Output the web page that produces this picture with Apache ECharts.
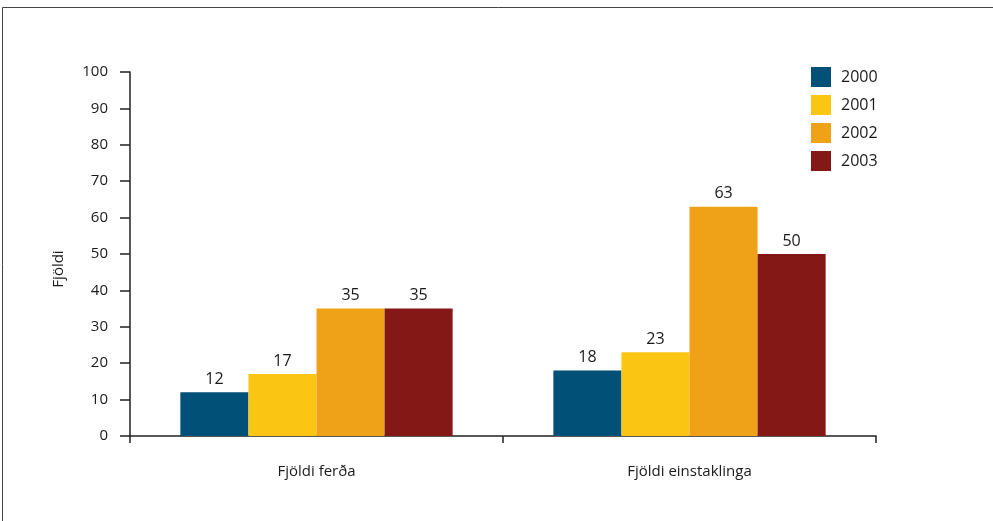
<!DOCTYPE html>
<html>
<head>
<meta charset="utf-8">
<style>
  html, body { margin: 0; padding: 0; background: #fff; }
  #chart { width: 993px; height: 521px; }
</style>
<script src="https://cdn.jsdelivr.net/npm/echarts@6/dist/echarts.min.js"></script>
</head>
<body>
<div id="chart"></div>
<script>
var categories = ['Fjöldi ferða', 'Fjöldi einstaklinga'];
var years = ['2000', '2001', '2002', '2003'];
var colors = ['#005077', '#FBC513', '#EFA117', '#841817'];
var values2000 = [12, 18];
var values2001 = [17, 23];
var values2002 = [35, 63];
var values2003 = [35, 50];
var yTicks = { min: 0, max: 100, interval: 10 };

var seriesValues = [values2000, values2001, values2002, values2003];
var font = '"Open Sans", "Noto Sans", sans-serif';

var myChart = echarts.init(document.getElementById('chart'));

var series = years.map(function (y, i) {
	return {
		name: y,
		type: 'bar',
		barGap: 0,
		barCategoryGap: '27%',
		itemStyle: { color: colors[i] },
		label: {
			show: true,
			position: 'top',
			distance: 5,
			color: '#1a1a1a',
			fontSize: 16,
			fontFamily: font
		},
		data: seriesValues[i]
	};
});

var option = {
	animation: false,
	backgroundColor: '#fff',
	textStyle: { fontFamily: font },
	graphic: [{
		type: 'rect',
		shape: { x: 2.5, y: 7.5, width: 1100, height: 600 },
		style: { fill: 'none', stroke: '#444', lineWidth: 1 },
		silent: true
	}],
	grid: { left: 130, right: 117, top: 72, bottom: 85 },
	legend: {
		orient: 'vertical',
		left: 806,
		top: 62,
		itemWidth: 20,
		itemHeight: 20,
		itemGap: 8,
		icon: 'rect',
		textStyle: { fontSize: 16, color: '#1a1a1a', fontFamily: font, padding: [0, 0, 0, 5] },
		data: years
	},
	xAxis: {
		type: 'category',
		data: categories,
		axisLine: { lineStyle: { color: '#222', width: 1.5 } },
		axisTick: { show: true, length: 7, inside: false, lineStyle: { color: '#222', width: 1.5 } },
		axisLabel: { color: '#1a1a1a', fontSize: 15, margin: 28, fontFamily: font }
	},
	yAxis: {
		type: 'value',
		min: yTicks.min,
		max: yTicks.max,
		interval: yTicks.interval,
		name: 'Fjöldi',
		nameLocation: 'middle',
		nameGap: 64,
		nameTextStyle: { color: '#1a1a1a', fontSize: 15, fontFamily: font, padding: [0, 0, 0, -30] },
		splitLine: { show: false },
		axisLine: { show: true, lineStyle: { color: '#222', width: 1.5 } },
		axisTick: { show: true, length: 10, lineStyle: { color: '#222', width: 1.5 } },
		axisLabel: { color: '#1a1a1a', fontSize: 15, margin: 22, fontFamily: font }
	},
	series: series
};
myChart.setOption(option);
</script>
</body>
</html>
